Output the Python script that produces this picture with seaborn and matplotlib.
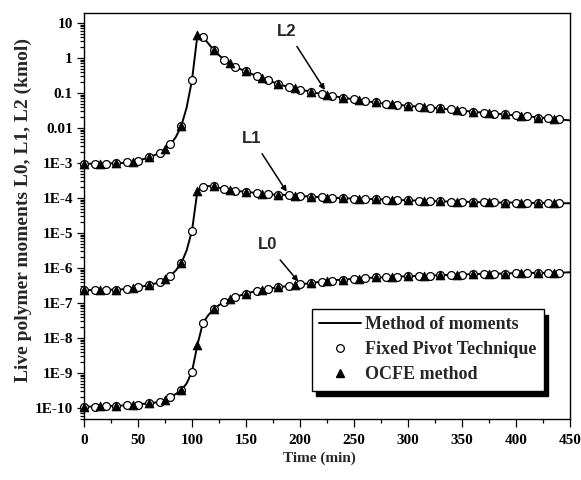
import numpy as np
import pandas as pd
import matplotlib
matplotlib.use("Agg")
import matplotlib.pyplot as plt
from matplotlib.lines import Line2D
from matplotlib.ticker import FixedLocator, FixedFormatter, LogLocator, MultipleLocator, NullFormatter
import seaborn as sns

# Time grid of the method-of-moments solution (min)
time_min = list(range(0, 451, 5))

# log10 of live polymer moments (kmol) on the time grid
L0_log10 = [
    -9.96, -9.96, -9.96, -9.95, -9.95, -9.94, -9.94, -9.93, -9.92, -9.91,
    -9.90, -9.88, -9.87, -9.85, -9.82, -9.76, -9.68, -9.60, -9.49, -9.30,
    -8.96, -8.20, -7.58, -7.35, -7.18, -7.06, -6.96, -6.89, -6.84, -6.78,
    -6.73, -6.69, -6.66, -6.63, -6.60, -6.57, -6.55, -6.53, -6.51, -6.49,
    -6.47, -6.45, -6.43, -6.41, -6.39, -6.37, -6.36, -6.34, -6.33, -6.32,
    -6.31, -6.30, -6.29, -6.28, -6.27, -6.27, -6.26, -6.25, -6.25, -6.24,
    -6.24, -6.23, -6.23, -6.22, -6.22, -6.21, -6.21, -6.20, -6.20, -6.19,
    -6.19, -6.18, -6.18, -6.17, -6.17, -6.17, -6.16, -6.16, -6.16, -6.15,
    -6.15, -6.15, -6.14, -6.14, -6.14, -6.14, -6.13, -6.13, -6.13, -6.13,
    -6.12,
]
L1_log10 = [
    -6.63, -6.63, -6.63, -6.63, -6.63, -6.62, -6.62, -6.61, -6.59, -6.57,
    -6.55, -6.52, -6.49, -6.45, -6.41, -6.31, -6.22, -6.07, -5.87, -5.50,
    -4.93, -3.80, -3.68, -3.66, -3.67, -3.71, -3.75, -3.76, -3.79, -3.81,
    -3.82, -3.84, -3.86, -3.88, -3.89, -3.90, -3.91, -3.91, -3.92, -3.93,
    -3.94, -3.95, -3.96, -3.97, -3.98, -3.99, -4.00, -4.00, -4.01, -4.01,
    -4.02, -4.02, -4.03, -4.03, -4.04, -4.04, -4.05, -4.05, -4.06, -4.06,
    -4.07, -4.07, -4.08, -4.08, -4.08, -4.09, -4.09, -4.10, -4.10, -4.10,
    -4.11, -4.11, -4.11, -4.12, -4.12, -4.12, -4.12, -4.13, -4.13, -4.13,
    -4.13, -4.14, -4.14, -4.14, -4.14, -4.14, -4.15, -4.15, -4.15, -4.15,
    -4.15,
]
L2_log10 = [
    -3.02, -3.02, -3.02, -3.02, -3.02, -3.01, -3.01, -3.00, -2.98, -2.96,
    -2.93, -2.89, -2.84, -2.78, -2.71, -2.60, -2.47, -2.26, -1.95, -1.42,
    -0.63, 0.65, 0.61, 0.42, 0.23, 0.08, -0.05, -0.15, -0.26, -0.32,
    -0.38, -0.45, -0.52, -0.58, -0.64, -0.69, -0.74, -0.79, -0.84, -0.87,
    -0.90, -0.93, -0.96, -1.00, -1.03, -1.06, -1.09, -1.11, -1.13, -1.16,
    -1.18, -1.20, -1.23, -1.25, -1.27, -1.29, -1.31, -1.32, -1.34, -1.35,
    -1.37, -1.38, -1.39, -1.41, -1.42, -1.43, -1.44, -1.46, -1.47, -1.49,
    -1.50, -1.52, -1.53, -1.55, -1.56, -1.57, -1.59, -1.60, -1.61, -1.63,
    -1.64, -1.65, -1.67, -1.68, -1.70, -1.71, -1.72, -1.74, -1.75, -1.77,
    -1.78,
]

# Sampling times of the two discretisation methods (min)
fpt_times = list(range(0, 441, 10))
ocfe_times = list(range(0, 436, 15))

moment_names = ["L0", "L1", "L2"]
legend_labels = ["Method of moments", "Fixed Pivot Technique", "OCFE method"]

x_tick_values = list(range(0, 451, 50))
y_tick_values = [1e-10, 1e-9, 1e-8, 1e-7, 1e-6, 1e-5, 1e-4, 1e-3, 1e-2, 1e-1, 1, 10]
y_tick_labels = ["1E-10", "1E-9", "1E-8", "1E-7", "1E-6", "1E-5", "1E-4",
                 "1E-3", "0.01", "0.1", "1", "10"]

df = pd.DataFrame({
    "time": time_min,
    "L0": 10 ** np.array(L0_log10),
    "L1": 10 ** np.array(L1_log10),
    "L2": 10 ** np.array(L2_log10),
})
fpt = df[df["time"].isin(fpt_times)]
ocfe = df[df["time"].isin(ocfe_times)]

sns.set_theme(style="ticks")
serif = ["Liberation Serif", "DejaVu Serif"]
plt.rcParams["font.family"] = serif
plt.rcParams["font.weight"] = "bold"

fig = plt.figure(figsize=(5.81, 4.8), dpi=100)
fig.patch.set_facecolor("white")
ax = fig.add_axes([84 / 581, 1 - 419 / 480, 486 / 581, 406 / 480])
ax.set_facecolor("white")
ax.set_yscale("log")

for m in moment_names:
    sns.lineplot(data=df, x="time", y=m, color="black", linewidth=1.4,
                 estimator=None, legend=False, ax=ax, zorder=2)
for m in moment_names:
    sns.scatterplot(data=fpt, x="time", y=m, marker="o", s=32, color="white",
                    edgecolor="black", linewidth=0.9, legend=False, ax=ax,
                    clip_on=False, zorder=3)
    sns.scatterplot(data=ocfe, x="time", y=m, marker="^", s=40, color="black",
                    edgecolor="black", linewidth=0.6, legend=False, ax=ax,
                    clip_on=False, zorder=4)

ax.set_xlim(0, 450)
ax.set_ylim(10 ** -10.314, 10 ** 1.286)

ax.xaxis.set_major_locator(FixedLocator(x_tick_values))
ax.xaxis.set_minor_locator(MultipleLocator(25))
ax.yaxis.set_major_locator(FixedLocator(y_tick_values))
ax.yaxis.set_major_formatter(FixedFormatter(y_tick_labels))
ax.yaxis.set_minor_locator(LogLocator(base=10, subs=np.arange(2, 10), numticks=30))
ax.yaxis.set_minor_formatter(NullFormatter())

ax.tick_params(axis="both", which="both", direction="out", top=False, right=False,
               colors="black", width=0.9)
ax.tick_params(axis="x", which="major", length=6, pad=5, labelsize=11)
ax.tick_params(axis="x", which="minor", length=3)
ax.tick_params(axis="y", which="major", length=5, pad=3, labelsize=11)
ax.tick_params(axis="y", which="minor", length=3)
for lab in ax.get_xticklabels() + ax.get_yticklabels():
    lab.set_fontweight("bold")
    lab.set_family(serif)

for sp in ax.spines.values():
    sp.set_visible(True)
    sp.set_color("black")
    sp.set_linewidth(1.0)

ax.set_xlabel("Time (min)", fontsize=11, fontweight="bold", family=serif)
ax.set_ylabel("Live polymer moments L0, L1, L2 (kmol)", fontsize=14,
              fontweight="bold", family=serif)
ax.xaxis.set_label_coords(0.4835, -0.081)
ax.xaxis.label.set_va("top")
ax.yaxis.set_label_coords(-0.107, 0.515)

# Curve labels with pointer arrows
arrow = dict(arrowstyle="-|>", color="black", lw=1.1, mutation_scale=8,
             shrinkA=4, shrinkB=0)
sans = ["Liberation Sans", "DejaVu Sans"]
ax.annotate("L2", xy=(223, 0.122), xytext=(188, 5.9), ha="center", va="center",
            fontsize=12, fontweight="bold", family=sans, arrowprops=arrow)
ax.annotate("L1", xy=(187.7, 1.5e-4), xytext=(155.6, 5.1e-3), ha="center",
            va="center", fontsize=12, fontweight="bold", family=sans, arrowprops=arrow)
ax.annotate("L0", xy=(198.4, 4.1e-7), xytext=(170, 4.6e-6), ha="center",
            va="center", fontsize=12, fontweight="bold", family=sans, arrowprops=arrow)

handles = [
    Line2D([], [], color="black", lw=1.4),
    Line2D([], [], marker="o", ls="none", mfc="white", mec="black", ms=5.5, mew=0.9),
    Line2D([], [], marker="^", ls="none", color="black", ms=6),
]
leg = ax.legend(handles, legend_labels, loc="upper left",
                bbox_to_anchor=(0.469, 0.271), borderaxespad=0, frameon=True,
                fancybox=False, framealpha=1, edgecolor="black",
                prop={"family": serif, "weight": "bold", "size": 13},
                handlelength=2.3, handletextpad=0.25, labelspacing=0.45,
                borderpad=0.4,
                shadow={"ox": 3, "oy": -4, "facecolor": "black",
                        "edgecolor": "black", "alpha": 1})
leg.get_frame().set_linewidth(1.0)

fig.savefig("out.png", dpi=100, facecolor="white")
